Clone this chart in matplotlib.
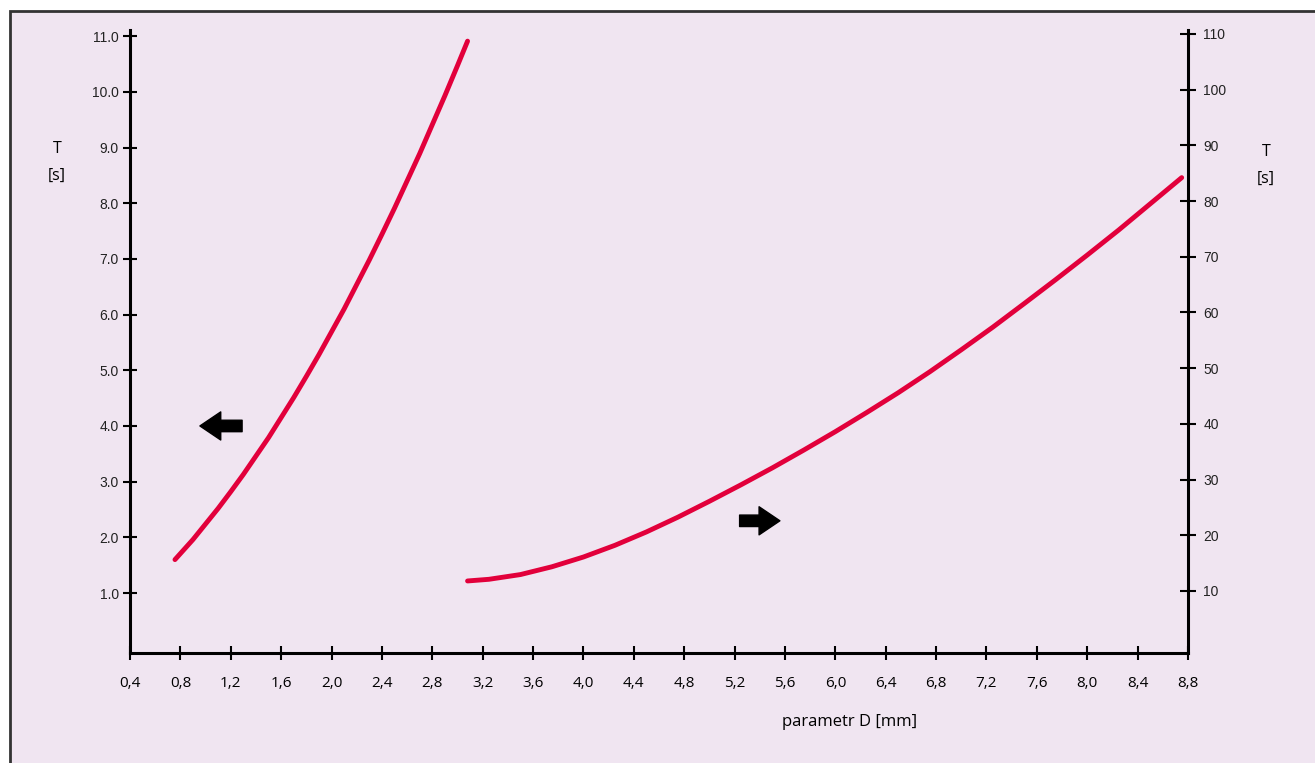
import matplotlib.pyplot as plt
from matplotlib.patches import Rectangle

# left curve (left axis, T in s)
d_left = [0.757, 0.9, 1.0, 1.1, 1.2, 1.3, 1.4, 1.5, 1.6, 1.7, 1.8, 1.9, 2.0,
          2.1, 2.2, 2.3, 2.4, 2.5, 2.6, 2.7, 2.8, 2.9, 3.0, 3.08]
t_left = [1.60, 1.96, 2.24, 2.52, 2.82, 3.13, 3.46, 3.79, 4.15, 4.51, 4.89, 5.28, 5.69,
          6.10, 6.54, 6.98, 7.44, 7.91, 8.40, 8.89, 9.41, 9.93, 10.47, 10.91]

# right curve (right axis, T in s)
d_right = [3.08, 3.25, 3.5, 3.75, 4.0, 4.25, 4.5, 4.75, 5.0, 5.25, 5.5, 5.75, 6.0,
           6.25, 6.5, 6.75, 7.0, 7.25, 7.5, 7.75, 8.0, 8.25, 8.5, 8.75]
t_right = [11.8, 12.1, 12.95, 14.35, 16.1, 18.2, 20.6, 23.25, 26.1, 29.05, 32.1, 35.3, 38.6,
           42.05, 45.6, 49.35, 53.3, 57.35, 61.6, 65.9, 70.3, 74.8, 79.5, 84.2]

x_ticks = [0.4, 0.8, 1.2, 1.6, 2.0, 2.4, 2.8, 3.2, 3.6, 4.0, 4.4, 4.8, 5.2, 5.6,
           6.0, 6.4, 6.8, 7.2, 7.6, 8.0, 8.4, 8.8]
left_ticks = [1, 2, 3, 4, 5, 6, 7, 8, 9, 10, 11]
right_ticks = [10, 20, 30, 40, 50, 60, 70, 80, 90, 100, 110]

bg = '#f0e5f1'
red = '#e2003b'

fig = plt.figure(figsize=(13.15, 7.63), dpi=100)
fig.patch.set_facecolor('white')
# framed panel
frame = Rectangle((10 / 1315, -0.1), 1.2, 1 - 11 / 763 + 0.1,
                  transform=fig.transFigure, facecolor=bg,
                  edgecolor='#333333', linewidth=2, zorder=-10)
fig.add_artist(frame)

ax = fig.add_axes([130 / 1315, 1 - 653 / 763, 1058 / 1315, 623 / 763])
ax.patch.set_alpha(0)
ax2 = ax.twinx()
ax2.patch.set_alpha(0)

ax.plot(d_left, t_left, color=red, lw=3.5, solid_capstyle='round', solid_joinstyle='round')
ax2.plot(d_right, t_right, color=red, lw=3.5, solid_capstyle='round', solid_joinstyle='round')

ax.set_xlim(0.4, 8.8)
ax.set_ylim(-0.077, 11.11)
ax2.set_ylim(-1.13, 110.7)

ax.set_xticks(x_ticks)
ax.set_xticklabels([f'{v:.1f}'.replace('.', ',') for v in x_ticks],
                   fontfamily='Open Sans', fontsize=11)
ax.set_yticks(left_ticks)
ax.set_yticklabels([f'{v:.1f}' for v in left_ticks],
                   fontfamily='Liberation Sans', fontsize=10, color='#222222')
ax2.set_yticks(right_ticks)
ax2.set_yticklabels([str(v) for v in right_ticks],
                    fontfamily='Liberation Sans', fontsize=10, color='#222222')

for a in (ax, ax2):
    for s in a.spines.values():
        s.set_visible(False)
ax.spines['left'].set_visible(True)
ax.spines['bottom'].set_visible(True)
ax2.spines['right'].set_visible(True)
for s in (ax.spines['left'], ax.spines['bottom'], ax2.spines['right']):
    s.set_linewidth(2.2)
    s.set_color('black')

ax.tick_params(axis='x', direction='inout', length=9.5, width=1.5, pad=12)
ax.tick_params(axis='y', direction='inout', length=10, width=1.5, pad=3)
ax2.tick_params(axis='y', direction='inout', length=12, width=1.5, pad=5)

ax.set_xlabel('parametr D [mm]', fontfamily='Open Sans', fontsize=12)
ax.xaxis.set_label_coords(0.68, -0.098)

ax.text(-0.069, 0.788, 'T\n[s]', transform=ax.transAxes, ha='center', va='center',
        fontfamily='Open Sans', fontsize=11.5, linespacing=1.9)
ax.text(1.0737, 0.782, 'T\n[s]', transform=ax.transAxes, ha='center', va='center',
        fontfamily='Open Sans', fontsize=11.5, linespacing=1.9)

arrow_style = 'simple,head_width=1.35,head_length=1.0,tail_width=0.55'
ax.annotate('', xy=(0.955, 4.0), xytext=(1.29, 4.0),
            arrowprops=dict(arrowstyle=arrow_style, color='black', mutation_scale=15,
                            shrinkA=0, shrinkB=0))
ax2.annotate('', xy=(5.56, 22.6), xytext=(5.24, 22.6),
             arrowprops=dict(arrowstyle=arrow_style, color='black', mutation_scale=15,
                             shrinkA=0, shrinkB=0))

fig.savefig('out.png', dpi=100, facecolor=fig.get_facecolor())
